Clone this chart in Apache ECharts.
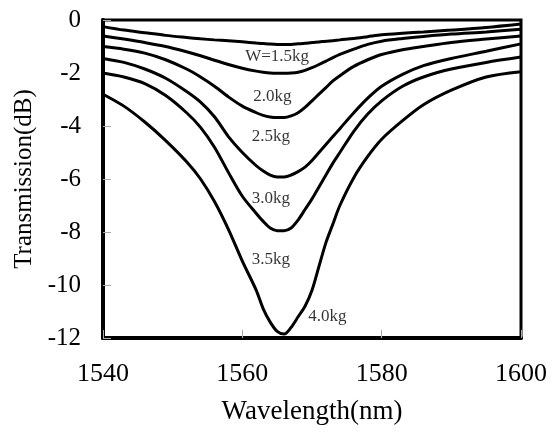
<!DOCTYPE html>
<html>
<head>
    <meta charset='utf-8'>
    <script src="https://cdn.jsdelivr.net/npm/echarts@6/dist/echarts.min.js"></script>
</head>
<body>
<style>
    html, body, #main {
        width: 100%;
        height: 100%;
        margin: 0;
        padding: 0;
        background: #fff;
    }
</style>
<div id="main"></div>
<script>

    // wavelength samples (nm), shared by every curve
    var wavelength = [1540, 1543, 1546, 1549, 1552, 1554, 1556, 1558, 1560, 1562, 1563, 1564, 1565, 1566, 1567,
        1568, 1569, 1570, 1571, 1572, 1573, 1574, 1576, 1578, 1580, 1583, 1586, 1590, 1595, 1600];

    // transmission (dB) for each load
    var w15 = [-0.25, -0.38, -0.48, -0.58, -0.66, -0.71, -0.75, -0.78, -0.82, -0.87, -0.89, -0.91, -0.92, -0.92, -0.92,
        -0.9, -0.88, -0.85, -0.83, -0.8, -0.78, -0.75, -0.7, -0.63, -0.56, -0.5, -0.45, -0.38, -0.28, -0.15];
    var w20 = [-0.6, -0.72, -0.85, -1.0, -1.2, -1.35, -1.52, -1.68, -1.82, -1.93, -1.97, -2.0, -2.01, -2.01, -2.0,
        -1.97, -1.9, -1.8, -1.68, -1.55, -1.42, -1.3, -1.1, -0.92, -0.8, -0.7, -0.62, -0.53, -0.45, -0.35];
    var w25 = [-1.0, -1.1, -1.25, -1.5, -1.85, -2.15, -2.5, -2.9, -3.25, -3.5, -3.6, -3.66, -3.68, -3.68, -3.62,
        -3.5, -3.3, -3.05, -2.8, -2.55, -2.3, -2.1, -1.75, -1.5, -1.3, -1.12, -1.0, -0.85, -0.72, -0.6];
    var w30 = [-1.45, -1.6, -1.85, -2.2, -2.7, -3.1, -3.65, -4.4, -5.0, -5.5, -5.7, -5.85, -5.92, -5.92, -5.85,
        -5.72, -5.55, -5.3, -5.0, -4.7, -4.4, -4.1, -3.5, -2.95, -2.5, -2.05, -1.72, -1.45, -1.18, -0.9];
    var w35 = [-2.0, -2.15, -2.4, -2.85, -3.5, -4.05, -4.8, -5.75, -6.65, -7.3, -7.6, -7.85, -7.95, -7.95, -7.85,
        -7.55, -7.15, -6.75, -6.3, -5.85, -5.4, -5.0, -4.2, -3.55, -3.05, -2.5, -2.15, -1.85, -1.6, -1.4];
    var w40 = [-2.8, -3.25, -3.85, -4.55, -5.35, -6.0, -6.85, -7.9, -9.1, -10.2, -10.9, -11.4, -11.75, -11.85, -11.6,
        -11.2, -10.8, -10.2, -9.3, -8.4, -7.7, -7.0, -5.95, -5.15, -4.5, -3.8, -3.2, -2.65, -2.15, -1.95];

    // curve labels: [wavelength, transmission, text]
    var curveLabels = [
        [1565.0, -1.36, 'W=1.5kg'],
        [1564.3, -2.9, '2.0kg'],
        [1564.1, -4.38, '2.5kg'],
        [1564.1, -6.75, '3.0kg'],
        [1564.1, -9.05, '3.5kg'],
        [1572.2, -11.2, '4.0kg']
    ];

    var fontFamily = "'Liberation Serif', 'Times New Roman', serif";

    var chart = echarts.init(document.getElementById('main'));

    function pair(values) {
        return wavelength.map(function (x, i) {
            return [x, values[i]];
        });
    }

    var series = [w15, w20, w25, w30, w35, w40].map(function (values) {
        return {
            type: 'line',
            data: pair(values),
            showSymbol: false,
            smooth: 0.3,
            lineStyle: {color: '#000', width: 3},
            z: 3
        };
    });

    series.push({
        type: 'scatter',
        data: curveLabels,
        symbolSize: 0,
        label: {
            show: true,
            position: 'inside',
            formatter: function (p) {
                return p.value[2];
            },
            color: '#000',
            fontFamily: fontFamily,
            fontSize: 17
        },
        z: 4
    });

    chart.setOption({
        backgroundColor: '#fff',
        animation: false,
        grid: {
            left: 103,
            top: 20,
            right: 31,
            bottom: 97,
            show: true,
            borderColor: '#000',
            borderWidth: 3
        },
        xAxis: {
            type: 'value',
            min: 1540,
            max: 1600,
            interval: 20,
            position: 'bottom',
            name: 'Wavelength(nm)',
            nameLocation: 'middle',
            nameGap: 60,
            nameTextStyle: {color: '#000', fontFamily: fontFamily, fontSize: 27},
            axisLine: {onZero: false, lineStyle: {color: '#000', width: 4}},
            axisTick: {inside: true, length: 8, lineStyle: {color: '#aaa', width: 1}},
            axisLabel: {
                color: '#000', fontFamily: fontFamily, fontSize: 26, margin: 23,
                formatter: function (v) {
                    return String(v);
                }
            },
            splitLine: {show: false}
        },
        yAxis: {
            type: 'value',
            min: -12,
            max: 0,
            interval: 2,
            name: 'Transmission(dB)',
            nameLocation: 'middle',
            nameGap: 64,
            nameTextStyle: {color: '#000', fontFamily: fontFamily, fontSize: 25},
            axisLine: {show: true, lineStyle: {color: '#000', width: 4}},
            axisTick: {inside: true, length: 8, lineStyle: {color: '#aaa', width: 1}},
            axisLabel: {color: '#000', fontFamily: fontFamily, fontSize: 25, margin: 22},
            splitLine: {show: false}
        },
        series: series
    });

</script>
</body>
</html>
